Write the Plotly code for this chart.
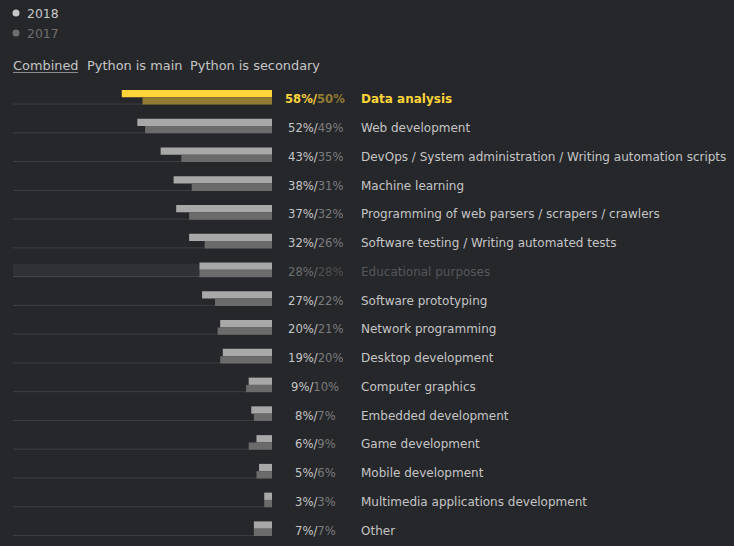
import plotly.graph_objects as go

categories = [
    "Data analysis",
    "Web development",
    "DevOps / System administration / Writing automation scripts",
    "Machine learning",
    "Programming of web parsers / scrapers / crawlers",
    "Software testing / Writing automated tests",
    "Educational purposes",
    "Software prototyping",
    "Network programming",
    "Desktop development",
    "Computer graphics",
    "Embedded development",
    "Game development",
    "Mobile development",
    "Multimedia applications development",
    "Other",
]
values_2018 = [58, 52, 43, 38, 37, 32, 28, 27, 20, 19, 9, 8, 6, 5, 3, 7]
values_2017 = [50, 49, 35, 31, 32, 26, 28, 22, 21, 20, 10, 7, 9, 6, 3, 7]
highlighted = "Data analysis"
dimmed = "Educational purposes"
legend_labels = ["2018", "2017"]
tabs = ["Combined", "Python is main", "Python is secondary"]

BG = "#26272b"
BAR18, BAR17 = "#a8a8a8", "#6b6b6b"
HL18, HL17 = "#fdd43a", "#917b33"
BASE = "#3e3f43"
BAND = "#303135"
TXT, TXT17 = "#c5c5c5", "#7b7b7b"
FONT = "DejaVu Sans"
FS = 12

n = len(categories)
rows = list(range(n))
W = 734
H = 546
ML = 13
plot_w = W - ML
ROW = 28.76
ytop = -97.3 / ROW
ybot = ytop + H / ROW
bw = 7.3 / ROW

c18 = [HL18 if c == highlighted else BAR18 for c in categories]
c17 = [HL17 if c == highlighted else BAR17 for c in categories]

fig = go.Figure()
fig.add_trace(go.Bar(
    x=values_2018, y=rows, orientation="h", width=bw, offset=-bw,
    marker=dict(color=c18, line=dict(width=0)), name="2018",
    showlegend=False, hoverinfo="skip",
))
fig.add_trace(go.Bar(
    x=values_2017, y=rows, orientation="h", width=bw, offset=0,
    marker=dict(color=c17, line=dict(width=0)), name="2017",
    showlegend=False, hoverinfo="skip",
))

shapes = []
annotations = []
for i, cat in enumerate(categories):
    if cat == dimmed:
        shapes.append(dict(type="rect", xref="x", yref="y", x0=100, x1=0,
                           y0=i - 0.215, y1=i + 0.245, fillcolor=BAND,
                           line=dict(width=0), layer="below"))
    shapes.append(dict(type="line", xref="x", yref="y", x0=100, x1=0,
                       y0=i + 0.235, y1=i + 0.235,
                       line=dict(color="#45464a" if cat == dimmed else BASE, width=1),
                       layer="below"))
    if cat == highlighted:
        p18, p17, lab, bold = HL18, HL17, HL18, True
    elif cat == dimmed:
        p18, p17, lab, bold = "#6e6e6e", "#4f4f4f", "#55565a", False
    else:
        p18, p17, lab, bold = TXT, TXT17, TXT, False
    pct = (f"<span style='color:{p18}'>{values_2018[i]}%/</span>"
           f"<span style='color:{p17}'>{values_2017[i]}%</span>")
    label = f"<b>{cat}</b>" if bold else cat
    if bold:
        pct = f"<b>{pct}</b>"
    annotations.append(dict(xref="paper", yref="y", x=(315 - ML) / plot_w, y=i,
                            text=pct, showarrow=False, xanchor="center", yshift=-2,
                            yanchor="middle", font=dict(family=FONT, size=11.6, color=p18)))
    annotations.append(dict(xref="paper", yref="y", x=(359 - ML) / plot_w, y=i,
                            text=label, showarrow=False, xanchor="left", yshift=-2,
                            yanchor="middle", font=dict(family=FONT, size=FS, color=lab)))

def px(xp):
    return (xp - ML) / plot_w

def py(yp):
    return 1 - yp / H

# legend (dots + labels)
for lbl, yp, col in zip(legend_labels, [13, 33], ["#c8c8c8", "#6e6e6e"]):
    shapes.append(dict(type="circle", xref="paper", yref="paper",
                       x0=px(12.5), x1=px(19.5), y0=py(yp + 3.5), y1=py(yp - 3.5),
                       fillcolor=col, line=dict(width=0)))
    annotations.append(dict(xref="paper", yref="paper", x=px(25), y=py(yp),
                            text=lbl, showarrow=False, xanchor="left", yanchor="middle",
                            font=dict(family=FONT, size=12.4, color=col)))

# tabs
for t, xp in zip(tabs, [11, 85, 188]):
    annotations.append(dict(xref="paper", yref="paper", x=px(xp), y=py(65),
                            text=t, showarrow=False, xanchor="left", yanchor="middle",
                            font=dict(family=FONT, size=12.9, color="#c5c5c5")))
shapes.append(dict(type="line", xref="paper", yref="paper", x0=px(13), x1=px(78),
                   y0=py(72.5), y1=py(72.5), line=dict(color="#8a8a8a", width=1)))

fig.update_layout(
    width=W, height=H,
    margin=dict(l=ML, r=0, t=0, b=0),
    paper_bgcolor=BG, plot_bgcolor=BG,
    barmode="overlay",
    showlegend=False,
    xaxis=dict(domain=[0, 259 / plot_w], range=[100, 0], visible=False, fixedrange=True),
    yaxis=dict(range=[ybot, ytop], visible=False, fixedrange=True),
    shapes=shapes,
    annotations=annotations,
)

fig.write_html(
    "out.html",
    config={"displayModeBar": False},
    post_script="document.body.style.margin='0';document.body.style.background='#26272b';document.body.style.overflow='hidden';",
)
